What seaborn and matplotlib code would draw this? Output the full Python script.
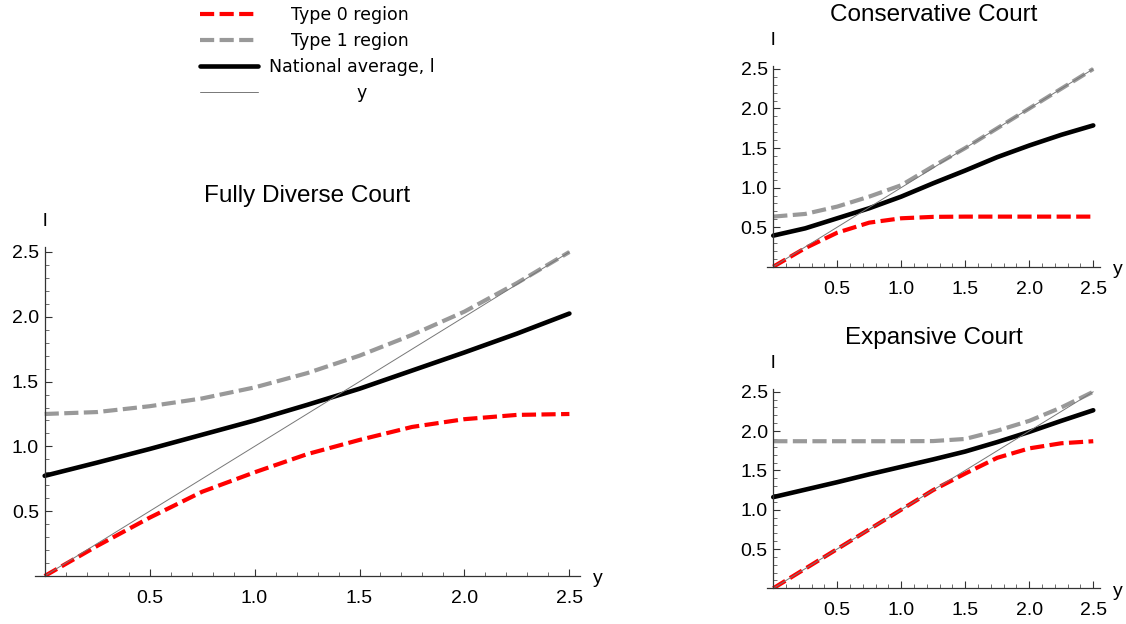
"""
Three court panels: type 0 / type 1 regions and national average l against y.
"""

import matplotlib
matplotlib.use("Agg")
import matplotlib.pyplot as plt
import seaborn as sns
from matplotlib.ticker import MultipleLocator, FixedLocator

# ---- data ----
y_vals = [0.0, 0.25, 0.5, 0.75, 1.0, 1.25, 1.5, 1.75, 2.0, 2.25, 2.5]

# Fully Diverse Court
diverse_type0 = [0.0, 0.232, 0.45, 0.65, 0.80, 0.94, 1.05, 1.15, 1.21, 1.243, 1.25]
diverse_type1 = [1.25, 1.265, 1.31, 1.37, 1.455, 1.565, 1.70, 1.86, 2.04, 2.26, 2.50]
diverse_avg = [0.773, 0.875, 0.98, 1.09, 1.20, 1.32, 1.445, 1.585, 1.725, 1.87, 2.025]

# Conservative Court
conserv_type0 = [0.0, 0.235, 0.43, 0.557, 0.612, 0.63, 0.633, 0.633, 0.633, 0.633, 0.633]
conserv_type1 = [0.633, 0.667, 0.76, 0.886, 1.03, 1.27, 1.50, 1.75, 2.0, 2.25, 2.50]
conserv_avg = [0.393, 0.485, 0.612, 0.739, 0.886, 1.055, 1.216, 1.385, 1.532, 1.667, 1.786]

# Expansive Court
expans_type0 = [0.0, 0.25, 0.5, 0.75, 1.0, 1.25, 1.46, 1.66, 1.78, 1.845, 1.871]
expans_type1 = [1.871, 1.871, 1.871, 1.871, 1.871, 1.873, 1.90, 2.005, 2.13, 2.30, 2.50]
expans_avg = [1.16, 1.255, 1.35, 1.45, 1.545, 1.64, 1.74, 1.86, 1.99, 2.13, 2.265]

labels = ["Type 0 region", "Type 1 region", "National average, l", "y"]
titles = ["Fully Diverse Court", "Conservative Court", "Expansive Court"]
tick_vals = [0.5, 1.0, 1.5, 2.0, 2.5]

sns.set_style("ticks")
plt.rcParams["font.family"] = ["Liberation Sans", "DejaVu Sans"]
plt.rcParams["text.color"] = "black"
plt.rcParams["xtick.labelcolor"] = "black"
plt.rcParams["ytick.labelcolor"] = "black"

fig = plt.figure(figsize=(11.26, 6.24), dpi=100)
ax_main = fig.add_axes([0.0311, 0.0769, 0.4839, 0.5276])
ax_cons = fig.add_axes([0.6815, 0.5726, 0.2951, 0.3220])
ax_exp = fig.add_axes([0.6815, 0.0572, 0.2951, 0.3200])

panels = [
    (ax_main, diverse_type0, diverse_type1, diverse_avg),
    (ax_cons, conserv_type0, conserv_type1, conserv_avg),
    (ax_exp, expans_type0, expans_type1, expans_avg),
]

dash = (0, (3.4, 1.3))
for (ax, t0, t1, avg), title in zip(panels, titles):
    sns.lineplot(x=y_vals, y=t0, ax=ax, color="#ff0000", linewidth=3.0, linestyle=dash, label=labels[0])
    sns.lineplot(x=y_vals, y=t1, ax=ax, color="#999999", linewidth=3.0, linestyle=dash, label=labels[1])
    sns.lineplot(x=y_vals, y=avg, ax=ax, color="black", linewidth=3.3, label=labels[2])
    sns.lineplot(x=y_vals, y=y_vals, ax=ax, color="#777777", linewidth=0.7, label=labels[3])
    ax.get_legend().remove()

    ax.set_xlim(-0.046, 2.55)
    ax.set_ylim(0, 2.54)
    ax.spines["left"].set_position(("data", 0))
    ax.spines["bottom"].set_position(("data", 0))
    ax.spines["top"].set_visible(False)
    ax.spines["right"].set_visible(False)
    for s in ("left", "bottom"):
        ax.spines[s].set_color("#333333")
        ax.spines[s].set_linewidth(0.9)

    ax.xaxis.set_major_locator(FixedLocator(tick_vals))
    ax.yaxis.set_major_locator(FixedLocator(tick_vals))
    ax.xaxis.set_minor_locator(MultipleLocator(0.1))
    ax.yaxis.set_minor_locator(MultipleLocator(0.1))
    ax.tick_params(which="major", direction="in", length=5, width=0.8, color="#333333", labelsize=14)
    ax.tick_params(which="minor", direction="in", length=2.8, width=0.6, color="#555555")
    ax.tick_params(axis="x", which="major", pad=10)
    ax.tick_params(axis="y", which="major", pad=4)
    ax.set_xticklabels(["0.5", "1.0", "1.5", "2.0", "2.5"])
    ax.set_yticklabels(["0.5", "1.0", "1.5", "2.0", "2.5"])
    ax.set_xlabel("")
    ax.set_ylabel("")

    ax.set_title(title, fontsize=17.5, pad=32, color="black")
    ax.annotate("l", xy=(0, 1), xycoords=("data", "axes fraction"), xytext=(0, 18),
                textcoords="offset points", ha="center", va="center", fontsize=14)
    ax.annotate("y", xy=(1, 0), xycoords=("axes fraction", "data"), xytext=(13, -2),
                textcoords="offset points", ha="center", va="center", fontsize=14)

# legend with centred-looking labels
handles, _ = ax_main.get_legend_handles_labels()
leg_labels = ["    Type 0 region", "    Type 1 region", "National average, l", "                y"]
leg = fig.legend(handles, leg_labels, loc="upper left", bbox_to_anchor=(0.164, 1.016),
                 frameon=False, handlelength=3.3, handletextpad=0.65, labelspacing=0.47,
                 prop={"family": "DejaVu Sans", "size": 12.5})

fig.savefig("out.png", dpi=100)
